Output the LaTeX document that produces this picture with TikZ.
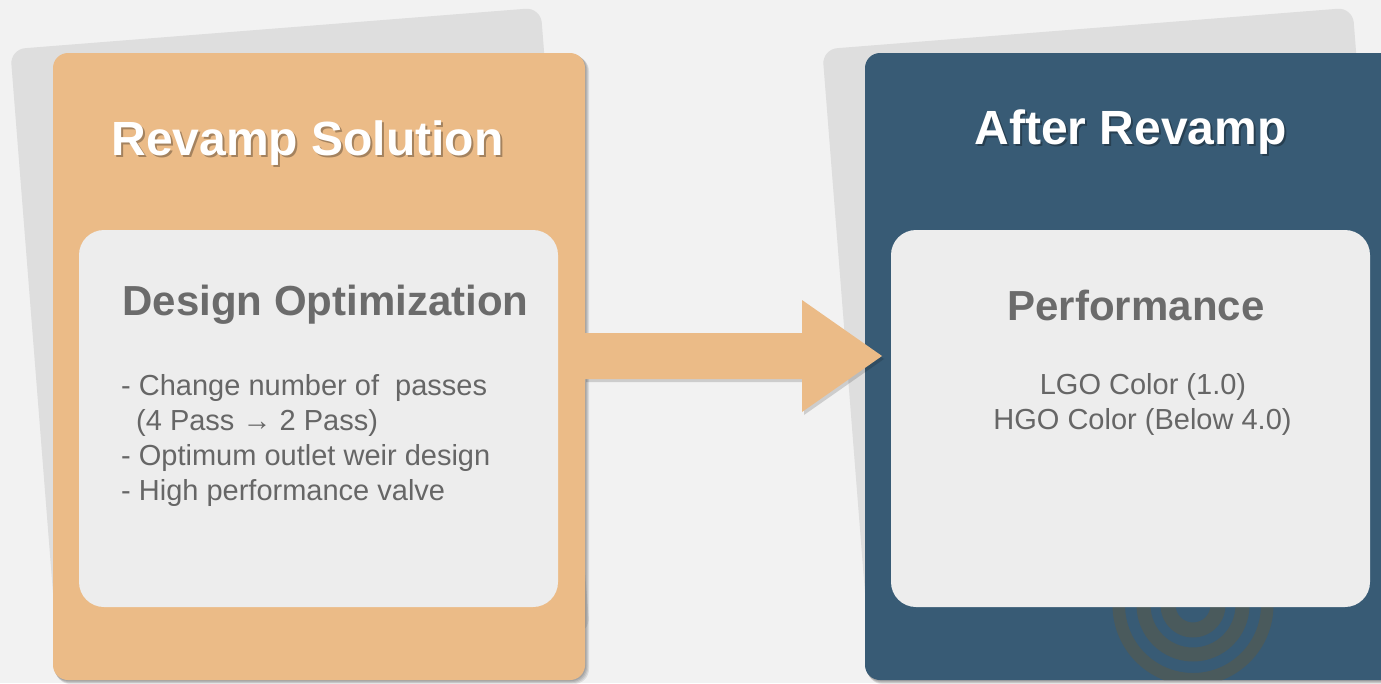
\documentclass[tikz,border=0pt]{standalone}
\usepackage{fontspec}
\setmainfont{Liberation Sans}
\usetikzlibrary{calc}
\definecolor{bgc}{HTML}{F2F2F2}
\definecolor{cardgrey}{HTML}{DEDEDE}
\definecolor{cardorange}{HTML}{EBBB87}
\definecolor{cardblue}{HTML}{385B75}
\definecolor{boxgrey}{HTML}{EDEDED}
\definecolor{titlegrey}{HTML}{6B6B6B}
\definecolor{bodygrey}{HTML}{666666}
\definecolor{ringcol}{HTML}{4A5A5C}
\begin{document}
\begin{tikzpicture}[x=1pt,y=-1pt,
  backcard/.style={fill=cardgrey, rounded corners=15pt, minimum width=532pt, minimum height=627pt, inner sep=0pt, rotate=4.5},
  card/.style={rounded corners=15pt, minimum width=532pt, minimum height=627pt, inner sep=0pt},
  innerbox/.style={fill=boxgrey, rounded corners=25pt, minimum width=479pt, minimum height=377pt, inner sep=0pt},
  cardshadow/.style={fill=black, opacity=0.09, rounded corners=15pt},
  titletext/.style={font=\bfseries\fontsize{48}{48}\selectfont, text=white, anchor=base, inner sep=0pt},
  titleshadow/.style={font=\bfseries\fontsize{48}{48}\selectfont, text=black, text opacity=0.3, anchor=base, inner sep=0pt},
  headtext/.style={font=\bfseries\fontsize{42}{42}\selectfont, text=titlegrey, anchor=base, inner sep=0pt},
  bodytext/.style={font=\fontsize{29}{35}\selectfont, text=bodygrey, anchor=base west, inner sep=0pt},
  bodyc/.style={font=\fontsize{29}{35}\selectfont, text=bodygrey, anchor=base, inner sep=0pt}
]
\useasboundingbox (0,0) rectangle (1381,683);
\fill[bgc] (0,0) rectangle (1381,683);

% back cards
\node[backcard] (backL) at (300,341) {};
\node[backcard] (backR) at (1112,341) {};

% card shadows
\foreach \d in {1,2,3,4}{
  \fill[cardshadow] (53+\d*0.6,53+\d*0.8) rectangle (585+\d,680+\d);
  \fill[cardshadow] (865+\d*0.6,53+\d*0.8) rectangle (1397+\d,680+\d);
}

% cards
\node[card, fill=cardorange] (cardL) at (319,366.5) {};
\node[card, fill=cardblue] (cardR) at (1131,366.5) {};

% rings on the blue card
\begin{scope}
  \clip[rounded corners=15pt] (865,53) rectangle (1397,680);
  \fill[ringcol, even odd rule] (1193,605) circle (80.5pt) circle (68pt) circle (56.5pt) circle (42.5pt) circle (32.5pt) circle (17.5pt);
\end{scope}

% inner boxes
\node[innerbox] (boxL) at (318.5,418.5) {};
\node[innerbox] (boxR) at (1130.5,418.5) {};

% titles
\node[titleshadow] (tLs) at (309.5,157.5) {Revamp Solution};
\node[titletext] (tL) at (307.5,155) {Revamp Solution};
\node[titleshadow] (tRs) at (1132.5,146.5) {After Revamp};
\node[titletext] (tR) at (1130.5,144) {After Revamp};

% headings
\node[headtext] (hL) at (325.5,315) {Design Optimization};
\node[headtext] (hR) at (1136,320) {Performance};

% body left
\node[bodytext] (b1) at (121,395) {- Change number of\ \ passes};
\node[bodytext] (b2) at (136,430) {(4 Pass → 2 Pass)};
\node[bodytext] (b3) at (121,465.5) {- Optimum outlet weir design};
\node[bodytext] (b4) at (121,500) {- High performance valve};

% body right
\node[bodyc] (r1) at (1143,394) {LGO Color (1.0)};
\node[bodyc] (r2) at (1142.5,429) {HGO Color (Below 4.0)};

% block arrow
\coordinate (astart) at (575,356);
\coordinate (sstart) at (586,356);
\coordinate (atip) at (882,356);
\fill[black, opacity=0.15] ($(sstart)+(0,-23)+(0,3)$) -- ($(atip)+(-80,-23)+(2,3)$) -- ($(atip)+(-80,-56)+(2,3)$) -- ($(atip)+(2,3)$) -- ($(atip)+(-80,56)+(2,3)$) -- ($(atip)+(-80,23)+(2,3)$) -- ($(sstart)+(0,23)+(0,3)$) -- cycle;
\fill[cardorange] ($(astart)+(0,-23)$) -- ($(atip)+(-80,-23)$) -- ($(atip)+(-80,-56)$) -- (atip) -- ($(atip)+(-80,56)$) -- ($(atip)+(-80,23)$) -- ($(astart)+(0,23)$) -- cycle;
\end{tikzpicture}
\end{document}
